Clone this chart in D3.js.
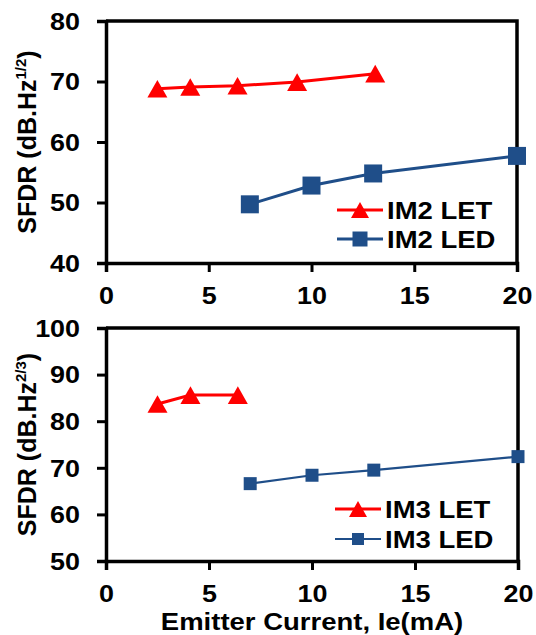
<!DOCTYPE html>
<html lang="en">
<head>
<meta charset="UTF-8">
<title>SFDR vs Emitter Current</title>
<script src="https://d3js.org/d3.v7.min.js"></script>
<style>
  body { margin: 0; background: #fff; }
  svg text { font-family: "Liberation Sans", Arial, sans-serif; font-weight: bold; fill: #000; }
</style>
</head>
<body>
<svg id="chart" width="536" height="635"></svg>
<script>
// Data
const xTicks = [0, 5, 10, 15, 20];
const im2Ticks = [40, 50, 60, 70, 80];
const im3Ticks = [50, 60, 70, 80, 90, 100];

const letCurrent2 = [2.5, 4.1, 6.4, 9.3, 13.1];
const im2LET = [68.8, 69.1, 69.3, 69.9, 71.3];
const ledCurrent = [7, 10, 13, 20];
const im2LED = [49.7, 52.8, 54.8, 57.7];

const letCurrent3 = [2.5, 4.1, 6.4];
const im3LET = [83.7, 85.6, 85.6];
const im3LED = [66.6, 68.4, 69.5, 72.4];

const RED = "#ff0000", BLUE = "#1f4e89";
const SX = 1.17; // horizontal stretch of the text in the source image

const svg = d3.select("#chart");

function panel(opt) {
  const x = d3.scaleLinear().domain([0, 20]).range([106, opt.right]);
  const y = d3.scaleLinear().domain(opt.yDomain).range([opt.bottom, opt.top]);
  const g = svg.append("g");

  // box (top and right edges)
  g.append("path")
    .attr("d", `M${x(0)},${opt.top}H${x(20)}V${opt.bottom}`)
    .attr("fill", "none").attr("stroke", "#000").attr("stroke-width", 3.5);

  const ax = g.append("g").attr("transform", `translate(0,${opt.bottom})`)
    .call(d3.axisBottom(x).tickValues(xTicks).tickSize(9));
  const ay = g.append("g").attr("transform", `translate(106,0)`)
    .call(d3.axisLeft(y).tickValues(opt.yTicks).tickSize(9));

  [ax, ay].forEach(a => {
    a.select(".domain").attr("stroke-width", 3.5);
    a.selectAll(".tick line").attr("stroke-width", 3);
    a.selectAll(".tick text").style("font-size", "23px")
      .attr("transform", `scale(${SX},1)`);
  });
  ax.selectAll(".tick text").attr("y", 41).attr("dy", 0);
  ay.selectAll(".tick text").attr("x", -26 / SX).attr("dy", "0.36em");

  // y title
  const t = g.append("text")
    .attr("transform", `translate(36,${(opt.top + opt.bottom) / 2}) rotate(-90)`)
    .attr("text-anchor", "middle").style("font-size", "25px");
  t.append("tspan").text("SFDR (dB.Hz");
  t.append("tspan").text(opt.sup).style("font-size", "15px").attr("dy", -10);
  t.append("tspan").text(")").attr("dy", 10);

  const line = d3.line().x(d => x(d[0])).y(d => y(d[1]));

  opt.series.forEach(s => {
    const pts = s.xs.map((v, i) => [v, s.ys[i]]);
    g.append("path").datum(pts).attr("d", line)
      .attr("fill", "none").attr("stroke", s.color).attr("stroke-width", s.width);
    g.selectAll(null).data(pts).enter().append("path")
      .attr("transform", d => `translate(${x(d[0])},${y(d[1])})`)
      .attr("d", markerPath(s.marker, s.size))
      .attr("fill", s.color);
  });

  // legend
  opt.series.forEach((s, i) => {
    const lg = g.append("g").attr("transform", `translate(${opt.legendX},${opt.legendY[i]})`);
    lg.append("line").attr("x1", 0).attr("x2", 46).attr("stroke", s.color).attr("stroke-width", s.width);
    lg.append("path").attr("transform", "translate(23,0)")
      .attr("d", markerPath(s.marker, s.legendSize)).attr("fill", s.color);
    lg.append("text").attr("transform", `translate(50,9) scale(${SX},1)`)
      .style("font-size", "23.5px").text(s.name);
  });
}

function markerPath(kind, size) {
  if (kind === "triangle") {
    const w = size, h = size * 0.88;
    return `M0,${-h / 2}L${w / 2},${h / 2}L${-w / 2},${h / 2}Z`;
  }
  const h = size / 2;
  return `M${-h},${-h}H${h}V${h}H${-h}Z`;
}

panel({
  right: 517, top: 21, bottom: 263, yDomain: [40, 80], yTicks: im2Ticks,
  sup: "1/2", legendX: 337, legendY: [210, 239],
  series: [
    { name: "IM2 LET", xs: letCurrent2, ys: im2LET, color: RED, width: 3, marker: "triangle", size: 20, legendSize: 18 },
    { name: "IM2 LED", xs: ledCurrent, ys: im2LED, color: BLUE, width: 3, marker: "square", size: 18, legendSize: 15 }
  ]
});

panel({
  right: 518, top: 328, bottom: 561, yDomain: [50, 100], yTicks: im3Ticks,
  sup: "2/3", legendX: 335, legendY: [509, 539],
  series: [
    { name: "IM3 LET", xs: letCurrent3, ys: im3LET, color: RED, width: 3, marker: "triangle", size: 20, legendSize: 18 },
    { name: "IM3 LED", xs: ledCurrent, ys: im3LED, color: BLUE, width: 2.2, marker: "square", size: 13, legendSize: 12 }
  ]
});

// x axis title
svg.append("text")
  .attr("transform", `translate(312,630) scale(${SX},1)`)
  .attr("text-anchor", "middle").style("font-size", "23.5px")
  .text("Emitter Current, Ie(mA)");
</script>
</body>
</html>
